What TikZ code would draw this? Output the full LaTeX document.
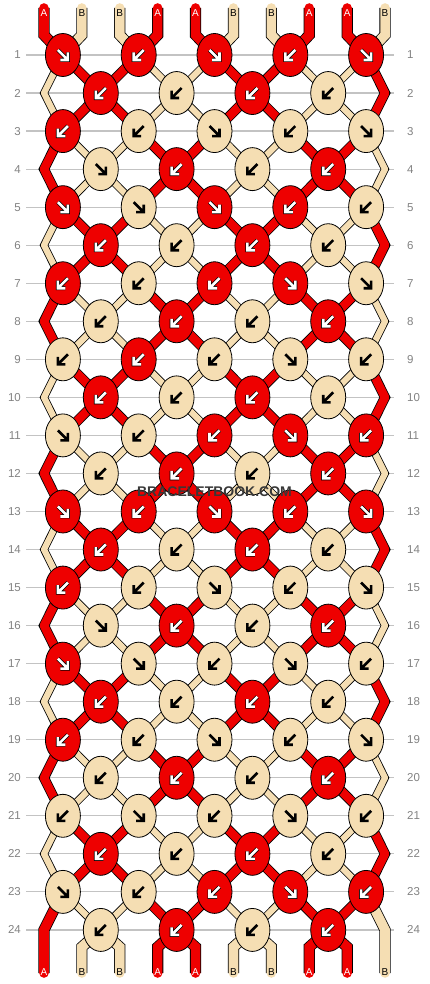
\documentclass[tikz,border=0pt]{standalone}
\usepackage{fontspec}
\setmainfont{Liberation Sans}
\usetikzlibrary{shapes.geometric}

\definecolor{threadA}{RGB}{238,0,0}
\definecolor{threadB}{RGB}{245,222,179}
\definecolor{gridgray}{RGB}{195,195,195}
\definecolor{numgray}{RGB}{130,130,130}

\pgfdeclarelayer{grid}
\pgfdeclarelayer{threads}
\pgfsetlayers{grid,threads,main}

% colour of the thread at position #2 after row #1
\newcommand{\strandcol}[2]{%
  \pgfmathtruncatemacro{\isA}{mod((mod(#2,4)<2)+mod(floor((#1+1)/2),2),2)}%
  \ifnum\isA=1 \def\tc{A}\else\def\tc{B}\fi}

\tikzset{
  knot/.style={ellipse, draw=black, line width=0.8pt, minimum width=35pt, minimum height=43pt, inner sep=0pt},
  knotA/.style={knot, fill=threadA},
  knotB/.style={knot, fill=threadB},
  arrowA/.style={draw=white, line width=2.6pt, preaction={draw=black, line width=4pt}},
  arrowB/.style={draw=black, line width=2.6pt},
  dirf/.style={},
  dirb/.style={xscale=-1},
  strandA/.style={draw=threadA, line width=8.5pt, line cap=round, line join=round, preaction={draw=black, line width=10.1pt}},
  strandB/.style={draw=threadB, line width=6.2pt, line cap=round, line join=round, preaction={draw=black, line width=7.8pt}},
  endA/.style={draw=threadA, line width=9.6pt, line cap=round, preaction={draw=black, line width=11.2pt}},
  endB/.style={draw=threadB, line width=9.6pt, line cap=round, preaction={draw=black, line width=11.2pt}},
  tagA/.style={text=white, font=\fontsize{10}{10}\selectfont, inner sep=0pt},
  tagB/.style={text=black, font=\fontsize{10}{10}\selectfont, inner sep=0pt},
  rownum/.style={text=numgray, font=\fontsize{11.5}{12}\selectfont, inner sep=0pt},
  gridline/.style={draw=gridgray, line width=1.2pt, shorten <=5pt, shorten >=13pt},
  brand/.style={text=black!78, font=\bfseries\fontsize{14}{14}\selectfont, inner sep=0pt}
}

\begin{document}
\begin{tikzpicture}[x=1pt, y=-1pt]
      \useasboundingbox (0,0) rectangle (430,984);
      \foreach \knots [count=\r] in {
          {A/f,A/b,A/f,A/b,A/f}, {A/b,B/b,A/b,B/b},
          {A/b,B/b,B/f,B/b,B/f}, {B/f,A/b,B/b,A/b},
          {A/f,B/f,A/f,A/b,B/b}, {A/b,B/b,A/b,B/b},
          {A/b,B/b,A/b,A/f,B/f}, {B/b,A/b,B/b,A/b},
          {B/b,A/b,B/b,B/f,B/b}, {A/b,B/b,A/b,B/b},
          {B/f,B/b,A/b,A/f,A/b}, {B/b,A/b,B/b,A/b},
          {A/f,A/b,A/f,A/b,A/f}, {A/b,B/b,A/b,B/b},
          {A/b,B/b,B/f,B/b,B/f}, {B/f,A/b,B/b,A/b},
          {A/f,B/f,B/b,B/f,B/b}, {A/b,B/b,A/b,B/b},
          {A/b,B/b,B/f,B/b,B/f}, {B/b,A/b,B/b,A/b},
          {B/b,B/f,B/b,B/f,B/b}, {A/b,B/b,A/b,B/b},
          {B/f,B/b,A/b,A/f,A/b}, {B/b,A/b,B/b,A/b}} {
          \pgfmathsetmacro{\ky}{55+(\r-1)*38.04}
          \foreach \col/\dir [count=\c] in \knots {
              \pgfmathsetmacro{\kx}{214.5+(2*\c-5-mod(\r,2))*37.9}
              \node[knot\col] (k-\r-\c) at (\kx,\ky) {};
              \begin{scope}[shift={(\kx,\ky)}, dir\dir]
                  \draw[arrow\col] (-5,-5) -- (5,5) (5,-2.5) -- (5,5) -- (-2.5,5);
              \end{scope}
          }
      }
      \foreach \r in {2,4,...,24} {
          \pgfmathsetmacro{\ky}{55+(\r-1)*38.04}
          \coordinate (k-\r-0) at (44,\ky);
          \coordinate (k-\r-5) at (385,\ky);
      }

      \begin{pgfonlayer}{grid}
      \foreach \r in {1,...,24} {
          \pgfmathsetmacro{\ky}{55+(\r-1)*38.04}
          \node[rownum, anchor=east] (ll-\r) at (21,\ky) {\r};
          \node[rownum, anchor=west] (lr-\r) at (407,\ky) {\r};
          \draw[gridline] (ll-\r.east) -- (lr-\r.west);
      }
      \end{pgfonlayer}

      \begin{pgfonlayer}{threads}
      % strings in and out
      \foreach \p in {1,...,10} {
          \pgfmathsetmacro{\xp}{214.5+(\p-5.5)*37.9}
          \pgfmathtruncatemacro{\c}{ceil(\p/2)}
          \strandcol{0}{\p}
          \coordinate (t-\p) at (\xp,8);
          \draw[end\tc] (t-\p) -- (\xp,35) -- (k-1-\c.center);
          \node[tag\tc] (lt-\p) at (\xp,13) {\tc};
      }
      \foreach \c in {1,...,4} {
          \pgfmathtruncatemacro{\posl}{2*\c}
          \pgfmathtruncatemacro{\posr}{2*\c+1}
          \foreach \p in {\posl,\posr} {
              \pgfmathsetmacro{\xp}{214.5+(\p-5.5)*37.9}
              \strandcol{24}{\p}
              \coordinate (b-\p) at (\xp,973);
              \draw[end\tc] (k-24-\c.center) -- (\xp,947) -- (b-\p);
              \node[tag\tc] (lb-\p) at (\xp,972) {\tc};
          }
      }
      \coordinate (b-1) at (44,973);
      \coordinate (b-10) at (385,973);
      \strandcol{24}{1}
      \draw[end\tc] (k-23-1.center) -- (k-24-0) -- (b-1);
      \node[tag\tc] (lb-1) at (44,972) {\tc};
      \strandcol{24}{10}
      \draw[end\tc] (k-23-5.center) -- (k-24-5) -- (b-10);
      \node[tag\tc] (lb-10) at (385,972) {\tc};

      % edges
      \foreach \r in {2,4,...,22} {
          \pgfmathtruncatemacro{\rp}{\r-1}
          \pgfmathtruncatemacro{\rn}{\r+1}
          \strandcol{\r}{1}
          \draw[strand\tc] (k-\rp-1.center) -- (k-\r-0) -- (k-\rn-1.center);
          \strandcol{\r}{10}
          \draw[strand\tc] (k-\rp-5.center) -- (k-\r-5) -- (k-\rn-5.center);
      }

      % knot to knot
      \foreach \r in {1,...,23} {
          \pgfmathtruncatemacro{\rn}{\r+1}
          \ifodd\r
              \foreach \c in {1,...,5} {
                  \pgfmathtruncatemacro{\cprev}{\c-1}
                  \pgfmathtruncatemacro{\posl}{2*\c-1}
                  \pgfmathtruncatemacro{\posr}{2*\c}
                  \ifnum\c>1
                      \strandcol{\r}{\posl}
                      \draw[strand\tc] (k-\r-\c.center) -- (k-\rn-\cprev.center);
                  \fi
                  \ifnum\c<5
                      \strandcol{\r}{\posr}
                      \draw[strand\tc] (k-\r-\c.center) -- (k-\rn-\c.center);
                  \fi
              }
          \else
              \foreach \c in {1,...,4} {
                  \pgfmathtruncatemacro{\cnext}{\c+1}
                  \pgfmathtruncatemacro{\posl}{2*\c}
                  \pgfmathtruncatemacro{\posr}{2*\c+1}
                  \strandcol{\r}{\posl}
                  \draw[strand\tc] (k-\r-\c.center) -- (k-\rn-\c.center);
                  \strandcol{\r}{\posr}
                  \draw[strand\tc] (k-\r-\c.center) -- (k-\rn-\cnext.center);
              }
          \fi
      }
      \end{pgfonlayer}

      \node[brand] (mark) at (214.5,491.5) {BRACELETBOOK.COM};
\end{tikzpicture}
\end{document}
